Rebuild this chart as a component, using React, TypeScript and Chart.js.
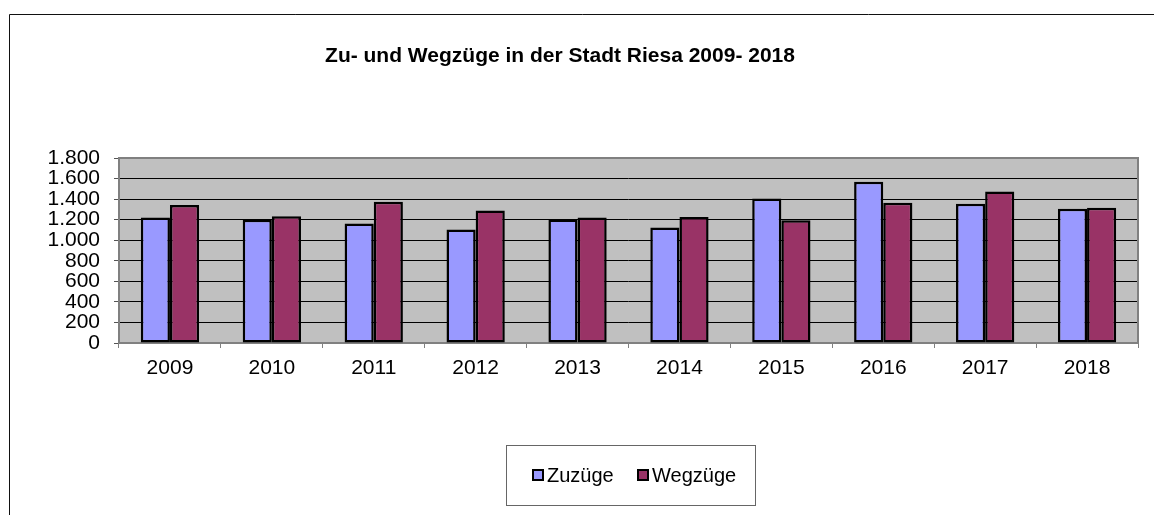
import React, { useEffect, useRef } from "react";
import { Chart, registerables } from "chart.js";

Chart.register(...registerables);

const years = ["2009", "2010", "2011", "2012", "2013", "2014", "2015", "2016", "2017", "2018"];
const zuzuege = [1220, 1198, 1162, 1104, 1201, 1123, 1406, 1569, 1354, 1306];
const wegzuege = [1342, 1234, 1374, 1289, 1220, 1227, 1195, 1364, 1475, 1315];
const seriesNames = ["Zuzüge", "Wegzüge"];
const seriesColors = ["#9999FF", "#993366"];
const chartTitle = "Zu- und Wegzüge in der Stadt Riesa 2009- 2018";

const FONT = "'Liberation Sans', Arial, sans-serif";

const fmt = (v: number) => String(v).replace(/\B(?=(\d{3})+(?!\d))/g, ".");

const decorPlugin = {
  id: "decor",
  beforeDraw(chart: any) {
    const { ctx, chartArea: a } = chart;
    ctx.save();
    ctx.fillStyle = "#C0C0C0";
    ctx.fillRect(a.left, a.top, a.right - a.left, a.bottom - a.top);
    ctx.restore();
  },
  beforeDatasetsDraw(chart: any) {
    const { ctx, chartArea: a } = chart;
    ctx.save();
    ctx.strokeStyle = "#808080";
    ctx.lineWidth = 2;
    ctx.strokeRect(a.left, a.top, a.right - a.left, a.bottom - a.top);
    ctx.restore();
  },
  afterDraw(chart: any) {
    const { ctx } = chart;
    ctx.save();
    // outer frame
    ctx.strokeStyle = "#111";
    ctx.lineWidth = 1;
    ctx.beginPath();
    ctx.moveTo(9.5, 530);
    ctx.lineTo(9.5, 14.5);
    ctx.lineTo(1170, 14.5);
    ctx.stroke();
    // title
    ctx.fillStyle = "#000";
    ctx.font = `bold 21px ${FONT}`;
    ctx.textAlign = "center";
    ctx.textBaseline = "middle";
    ctx.fillText(chartTitle, 560, 56);
    // legend
    ctx.strokeStyle = "#666";
    ctx.lineWidth = 1;
    ctx.strokeRect(506.5, 445.5, 249, 60);
    ctx.font = `20px ${FONT}`;
    ctx.textAlign = "left";
    const xs = [533, 638];
    chart.data.datasets.forEach((ds: any, i: number) => {
      const x = xs[i];
      const y = 475;
      ctx.fillStyle = ds.backgroundColor;
      ctx.fillRect(x, y - 5, 10, 10);
      ctx.strokeStyle = "#000";
      ctx.lineWidth = 2;
      ctx.strokeRect(x, y - 5, 10, 10);
      ctx.fillStyle = "#000";
      ctx.fillText(ds.label, x + 14, y + 1);
    });
    ctx.restore();
  },
};

export default function App() {
  const ref = useRef<HTMLCanvasElement>(null);
  useEffect(() => {
    if (!ref.current) return;
    const chart = new Chart(ref.current, {
      type: "bar",
      data: {
        labels: years,
        datasets: [
          {
            label: seriesNames[0],
            data: zuzuege,
            backgroundColor: seriesColors[0],
            borderColor: "#000",
            borderWidth: 2.5,
            borderSkipped: false,
            categoryPercentage: 0.572,
            barPercentage: 1,
          },
          {
            label: seriesNames[1],
            data: wegzuege,
            backgroundColor: seriesColors[1],
            borderColor: "#000",
            borderWidth: 2.5,
            borderSkipped: false,
            categoryPercentage: 0.572,
            barPercentage: 1,
          },
        ],
      },
      options: {
        responsive: false,
        animation: false,
        layout: { padding: { left: 0, right: 16, top: 158, bottom: 0 } },
        plugins: {
          legend: { display: false },
          title: { display: false },
          tooltip: { enabled: false },
        },
        scales: {
          x: {
            afterFit: (s: any) => {
              s.height = 172;
            },
            grid: {
              offset: true,
              drawOnChartArea: false,
              tickLength: 5,
              color: "#808080",
            },
            border: { display: false },
            ticks: {
              color: "#000",
              font: { family: FONT, size: 21 },
              padding: 8,
              maxRotation: 0,
            },
          },
          y: {
            min: 0,
            max: 1800,
            afterFit: (s: any) => {
              s.width = 119;
            },
            grid: {
              color: "#000",
              lineWidth: 1,
              tickLength: 5,
              tickColor: "#555",
            },
            border: { display: false },
            ticks: {
              stepSize: 200,
              autoSkip: false,
              color: "#000",
              font: { family: FONT, size: 21 },
              padding: 14,
              callback: (v: any) => fmt(Number(v)),
            },
          },
        },
      },
      plugins: [decorPlugin],
    });
    return () => chart.destroy();
  }, []);
  return (
    <div style={{ position: "absolute", left: 0, top: 0, width: 1154, height: 515, background: "#fff" }}>
      <canvas ref={ref} width={1154} height={515} />
    </div>
  );
}
